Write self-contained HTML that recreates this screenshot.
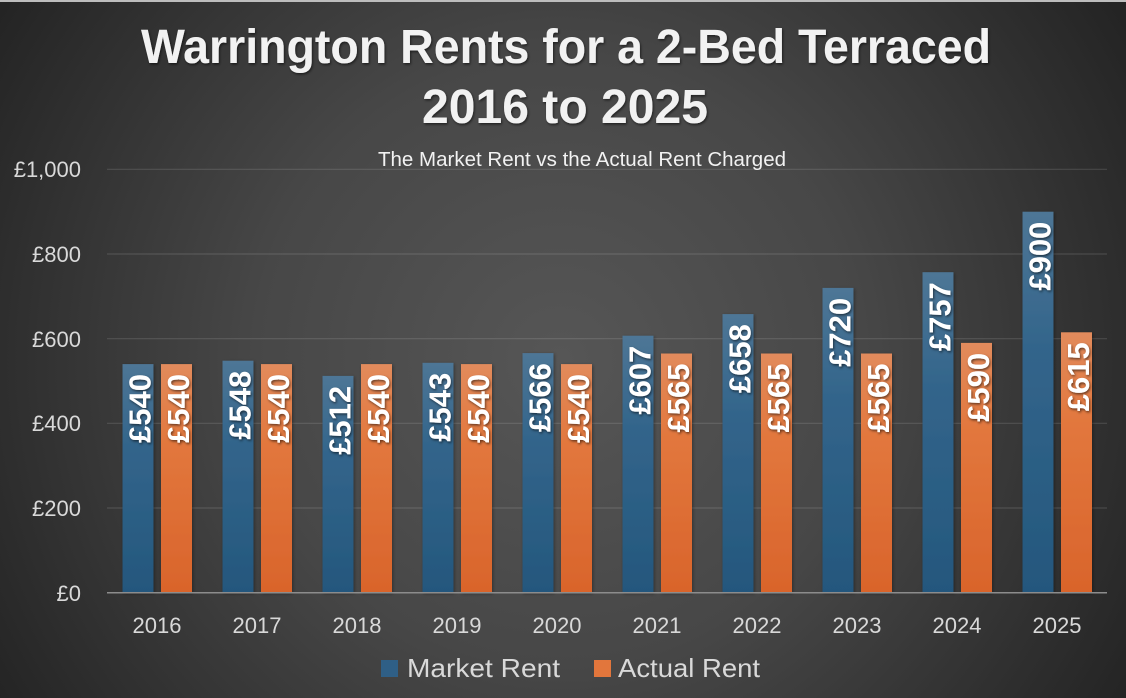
<!DOCTYPE html>
<html><head><meta charset="utf-8"><style>
html,body{margin:0;padding:0;background:#262626;}
svg{display:block;}
</style></head><body>
<svg width="1126" height="698" viewBox="0 0 1126 698" xmlns="http://www.w3.org/2000/svg" font-family="Liberation Sans, sans-serif">
<defs>
<radialGradient id="bg" gradientUnits="userSpaceOnUse" cx="560" cy="360" r="680">
<stop offset="0" stop-color="#565656"/>
<stop offset="0.45" stop-color="#474747"/>
<stop offset="1" stop-color="#222222"/>
</radialGradient>
<linearGradient id="gb" x1="0" y1="0" x2="0" y2="1">
<stop offset="0" stop-color="#4e7696"/>
<stop offset="0.35" stop-color="#33658b"/>
<stop offset="1" stop-color="#24577d"/>
</linearGradient>
<linearGradient id="go" x1="0" y1="0" x2="0" y2="1">
<stop offset="0" stop-color="#e28b5c"/>
<stop offset="0.35" stop-color="#e2773d"/>
<stop offset="1" stop-color="#d9642b"/>
</linearGradient>
<filter id="sh" x="-20%" y="-20%" width="140%" height="140%">
<feDropShadow dx="1" dy="1.5" stdDeviation="1.2" flood-color="#000" flood-opacity="0.55"/>
</filter>
<filter id="bs" x="-20%" y="-5%" width="140%" height="110%">
<feDropShadow dx="1" dy="1" stdDeviation="1.5" flood-color="#000" flood-opacity="0.35"/>
</filter>
</defs>
<rect x="0" y="0" width="1126" height="698" fill="url(#bg)"/>
<rect x="0" y="0" width="1126" height="2" fill="#bdbdbd"/>

<!-- Title -->
<g filter="url(#sh)" fill="#f2f2f2" font-weight="bold" font-size="48">
<text x="141" y="63" textLength="850" lengthAdjust="spacingAndGlyphs">Warrington Rents for a 2-Bed Terraced</text>
<text x="422" y="123" textLength="286" lengthAdjust="spacingAndGlyphs">2016 to 2025</text>
</g>
<text x="378" y="166" font-size="20" fill="#f2f2f2" textLength="408" lengthAdjust="spacingAndGlyphs">The Market Rent vs the Actual Rent Charged</text>

<!-- Gridlines -->
<g stroke="#ffffff" stroke-opacity="0.13" stroke-width="1.2">
<line x1="107" y1="169.3" x2="1107" y2="169.3"/>
<line x1="107" y1="254" x2="1107" y2="254"/>
<line x1="107" y1="338.7" x2="1107" y2="338.7"/>
<line x1="107" y1="423.3" x2="1107" y2="423.3"/>
<line x1="107" y1="508" x2="1107" y2="508"/>
</g>

<!-- Y labels -->
<g font-size="22" fill="#d9d9d9" text-anchor="end">
<text x="81" y="177">£1,000</text>
<text x="81" y="262">£800</text>
<text x="81" y="347">£600</text>
<text x="81" y="431">£400</text>
<text x="81" y="516">£200</text>
<text x="81" y="601">£0</text>
</g>

<!-- Bars -->
<g filter="url(#bs)">
<rect x="122.5" y="364.1" width="31" height="228.6" fill="url(#gb)"/>
<rect x="161" y="364.1" width="31" height="228.6" fill="url(#go)"/>
<rect x="222.5" y="360.7" width="31" height="232" fill="url(#gb)"/>
<rect x="261" y="364.1" width="31" height="228.6" fill="url(#go)"/>
<rect x="322.5" y="375.9" width="31" height="216.8" fill="url(#gb)"/>
<rect x="361" y="364.1" width="31" height="228.6" fill="url(#go)"/>
<rect x="422.5" y="362.8" width="31" height="229.9" fill="url(#gb)"/>
<rect x="461" y="364.1" width="31" height="228.6" fill="url(#go)"/>
<rect x="522.5" y="353.1" width="31" height="239.6" fill="url(#gb)"/>
<rect x="561" y="364.1" width="31" height="228.6" fill="url(#go)"/>
<rect x="622.5" y="335.7" width="31" height="257" fill="url(#gb)"/>
<rect x="661" y="353.5" width="31" height="239.2" fill="url(#go)"/>
<rect x="722.5" y="314.1" width="31" height="278.6" fill="url(#gb)"/>
<rect x="761" y="353.5" width="31" height="239.2" fill="url(#go)"/>
<rect x="822.5" y="287.9" width="31" height="304.8" fill="url(#gb)"/>
<rect x="861" y="353.5" width="31" height="239.2" fill="url(#go)"/>
<rect x="922.5" y="272.2" width="31" height="320.5" fill="url(#gb)"/>
<rect x="961" y="342.9" width="31" height="249.8" fill="url(#go)"/>
<rect x="1022.5" y="211.7" width="31" height="381" fill="url(#gb)"/>
<rect x="1061" y="332.3" width="31" height="260.4" fill="url(#go)"/>
</g>

<!-- Axis -->
<line x1="107" y1="592.7" x2="1107" y2="592.7" stroke="#8c8c8c" stroke-width="1.5"/>

<!-- Data labels -->
<g font-size="31" font-weight="bold" fill="#ffffff" text-anchor="end" filter="url(#sh)">
<text transform="translate(139,374) rotate(-90)" x="0" y="11.5">£540</text>
<text transform="translate(177.5,374) rotate(-90)" x="0" y="11.5">£540</text>
<text transform="translate(239,370.7) rotate(-90)" x="0" y="11.5">£548</text>
<text transform="translate(277.5,374) rotate(-90)" x="0" y="11.5">£540</text>
<text transform="translate(339,385.9) rotate(-90)" x="0" y="11.5">£512</text>
<text transform="translate(377.5,374) rotate(-90)" x="0" y="11.5">£540</text>
<text transform="translate(439,372.8) rotate(-90)" x="0" y="11.5">£543</text>
<text transform="translate(477.5,374) rotate(-90)" x="0" y="11.5">£540</text>
<text transform="translate(539,363.1) rotate(-90)" x="0" y="11.5">£566</text>
<text transform="translate(577.5,374) rotate(-90)" x="0" y="11.5">£540</text>
<text transform="translate(639,345.7) rotate(-90)" x="0" y="11.5">£607</text>
<text transform="translate(677.5,363.5) rotate(-90)" x="0" y="11.5">£565</text>
<text transform="translate(739,324.1) rotate(-90)" x="0" y="11.5">£658</text>
<text transform="translate(777.5,363.5) rotate(-90)" x="0" y="11.5">£565</text>
<text transform="translate(839,297.9) rotate(-90)" x="0" y="11.5">£720</text>
<text transform="translate(877.5,363.5) rotate(-90)" x="0" y="11.5">£565</text>
<text transform="translate(939,282.2) rotate(-90)" x="0" y="11.5">£757</text>
<text transform="translate(977.5,352.9) rotate(-90)" x="0" y="11.5">£590</text>
<text transform="translate(1039,221.7) rotate(-90)" x="0" y="11.5">£900</text>
<text transform="translate(1077.5,342.3) rotate(-90)" x="0" y="11.5">£615</text>
</g>

<!-- X labels -->
<g font-size="22" fill="#d9d9d9" text-anchor="middle">
<text x="157" y="633">2016</text>
<text x="257" y="633">2017</text>
<text x="357" y="633">2018</text>
<text x="457" y="633">2019</text>
<text x="557" y="633">2020</text>
<text x="657" y="633">2021</text>
<text x="757" y="633">2022</text>
<text x="857" y="633">2023</text>
<text x="957" y="633">2024</text>
<text x="1057" y="633">2025</text>
</g>

<!-- Legend -->
<rect x="381" y="660" width="17" height="17" fill="#2f5f86"/>
<text x="407" y="677" font-size="26" fill="#d9d9d9" textLength="153" lengthAdjust="spacingAndGlyphs">Market Rent</text>
<rect x="594" y="660" width="17" height="17" fill="#e2763c"/>
<text x="618" y="677" font-size="26" fill="#d9d9d9" textLength="142" lengthAdjust="spacingAndGlyphs">Actual Rent</text>
</svg>
</body></html>
